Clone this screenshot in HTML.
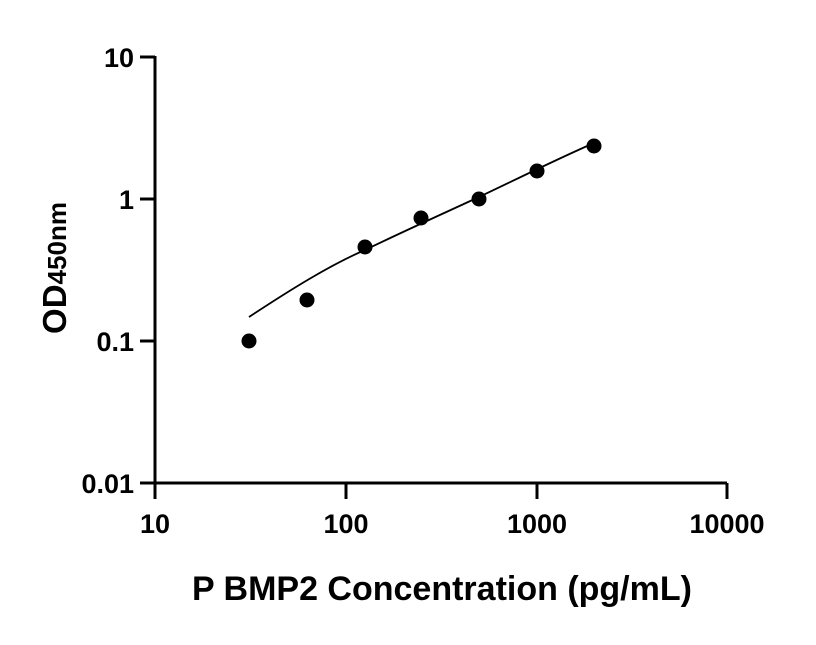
<!DOCTYPE html>
<html><head><style>body{margin:0;background:#fff}</style></head><body>
<svg width="816" height="640" xmlns="http://www.w3.org/2000/svg" font-family="Liberation Sans, sans-serif" font-weight="bold">
<g stroke="#000" stroke-width="3" fill="none">
<path d="M155,56 V483 H727"/>
<path d="M140,57 H155 M140,199 H155 M140,341 H155 M140,483 H155"/>
<path d="M155,483 V499 M346,483 V499 M537,483 V499 M727,483 V499"/>
</g>
<path d="M249,317 C290,290 330,265 365,250 C400,233 440,215 479,197 C515,180 555,160 594,143" stroke="#000" stroke-width="1.8" fill="none"/>
<g fill="#000">
<circle cx="249" cy="341" r="7.5"/><circle cx="307" cy="300" r="7.5"/><circle cx="365" cy="247" r="7.5"/>
<circle cx="421" cy="218" r="7.5"/><circle cx="479" cy="199" r="7.5"/><circle cx="537" cy="171" r="7.5"/><circle cx="594" cy="146" r="7.5"/>
</g>
<g font-size="27" text-anchor="end">
<text x="134" y="67">10</text><text x="134" y="209">1</text><text x="134" y="351">0.1</text><text x="134" y="493">0.01</text>
</g>
<g font-size="27" text-anchor="middle">
<text x="155" y="533">10</text><text x="346" y="533">100</text><text x="537" y="533">1000</text><text x="727" y="533">10000</text>
</g>
<text x="442" y="600" font-size="34" text-anchor="middle">P BMP2 Concentration (pg/mL)</text>
<text transform="translate(66,268) rotate(-90)" font-size="33" text-anchor="middle">OD<tspan font-size="26">450nm</tspan></text>
</svg>
</body></html>
